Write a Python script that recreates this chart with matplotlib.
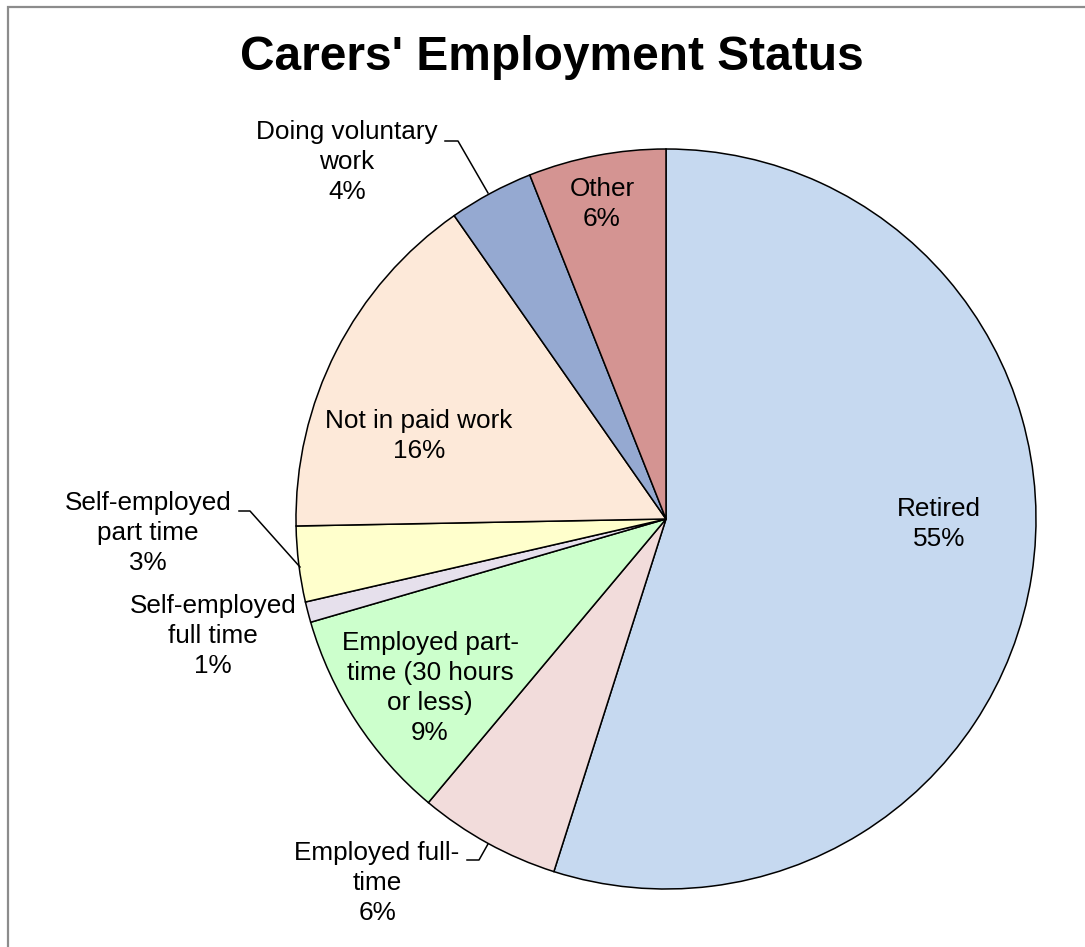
import matplotlib.pyplot as plt
from matplotlib.patches import Rectangle

plt.rcParams['font.family'] = ['Liberation Sans', 'DejaVu Sans']

categorias = ['Retired', 'Employed full-\ntime', 'Employed part-\ntime (30 hours\nor less)',
              'Self-employed\nfull time', 'Self-employed\npart time', 'Not in paid work',
              'Doing voluntary\nwork', 'Other']
valores = [54.9, 6.2, 9.4, 0.9, 3.3, 15.6, 3.7, 6.0]
cores = ['#C6D9F0', '#F2DCDB', '#CCFFCC', '#E6E0EC', '#FFFFCC', '#FDE9D9', '#95A9D1', '#D49492']

# posicao dos rotulos em pixels (x, y a partir do topo)
pos_rotulos = [(939, 524), (377, 883), (430, 688), (213, 636), (148, 533),
               (419, 436), (347, 162), (602, 204)]
# linhas de chamada: (inicio horizontal, fim horizontal, ponto na fatia)
chamadas = {
    1: [(467, 860), (479, 860), (488, 844)],
    4: [(239, 511), (250, 511), (300, 567)],
    6: [(445, 141), (458, 141), (488, 193)],
}

W, H = 1085, 947
fig = plt.figure(figsize=(W / 100, H / 100), dpi=100)
ax = fig.add_axes([0, 0, 1, 1])

ax.pie(valores, colors=cores, startangle=90, counterclock=False,
       center=(666, H - 519), radius=370, frame=True,
       wedgeprops=dict(edgecolor='black', linewidth=1.1))
ax.set_xlim(0, W)
ax.set_ylim(0, H)
ax.set_aspect('equal')
ax.axis('off')

for i, (nome, v) in enumerate(zip(categorias, valores)):
    x, y = pos_rotulos[i]
    ax.text(x, H - y, f"{nome}\n{v:.0f}%", ha='center', va='center',
            fontsize=18.8, linespacing=1.33, color='black')

for pts in chamadas.values():
    ax.plot([p[0] for p in pts], [H - p[1] for p in pts], color='black', lw=1.1)

fig.text(552 / W, 1 - 57 / H, "Carers' Employment Status", ha='center', va='center',
         fontsize=34.5, fontweight='bold')

# moldura cinza (so aparecem as bordas de cima e da esquerda)
fig.patches.append(Rectangle((8 / W, -0.1), 1.2, 1.1 - 7 / H, transform=fig.transFigure,
                             fill=False, edgecolor='#8c8c8c', linewidth=1.6))

plt.savefig('out.png', dpi=100)
